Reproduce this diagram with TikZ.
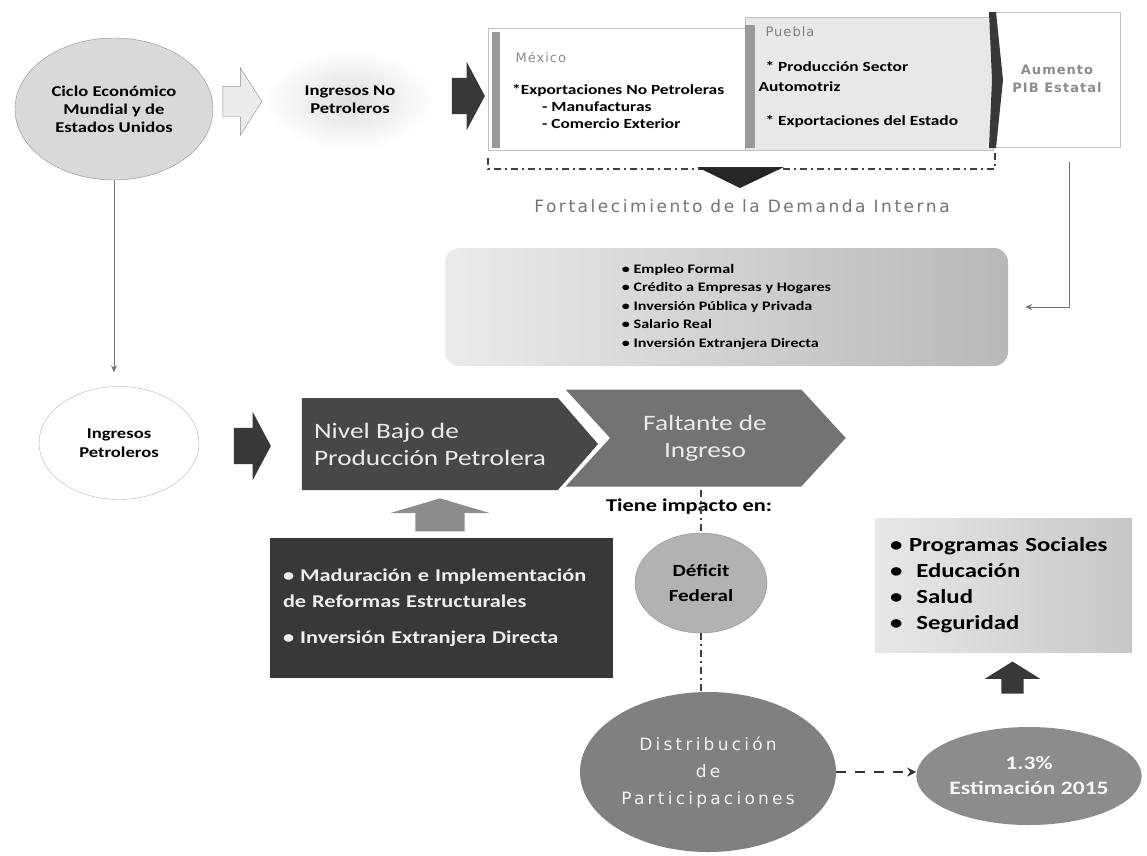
\documentclass[tikz,border=0pt]{standalone}
\usepackage{fontspec}
\setmainfont[FakeStretch=1.24]{Carlito}
\newfontfamily\wide[LetterSpace=8]{DejaVu Sans}
\usepackage{tikz}
\usetikzlibrary{shapes.geometric,shapes.arrows,shapes.symbols,arrows.meta}
\definecolor{inkdark}{HTML}{383838}
\newcommand{\fsz}[2]{\fontsize{#1}{#2}\selectfont}
\newcommand{\shaft}[2]{\phantom{\rule{#1pt}{#2pt}}}
\tikzstyle{oval}=[ellipse,inner sep=0pt,align=center]
\tikzstyle{blockarrow}=[single arrow,inner sep=0pt,fill=inkdark]
\tikzstyle{link}=[draw=black!55,line width=0.9pt,-{Stealth[length=7pt,width=6pt]}]
\tikzstyle{dotline}=[draw=black!75,line width=1.2pt,dash pattern=on 7pt off 4pt on 2pt off 4pt]
\tikzstyle{dasharrow}=[draw=black!80,line width=1.6pt,dash pattern=on 10pt off 9pt,-{Stealth[length=9pt,width=9pt]}]
\tikzstyle{itemtext}=[font=\bfseries\fsz{14}{17}]

\begin{document}
\begin{tikzpicture}[x=1pt,y=-1pt]
\useasboundingbox (0,0) rectangle (1147,855);

\node[oval,draw=black!45,fill=black!15,minimum width=198,minimum height=142,font=\bfseries\fsz{15}{18}] (ciclo) at (114,109) {Ciclo Económico\\Mundial y de\\Estados Unidos};
\node[blockarrow,fill=black!8,draw=black!45,minimum height=39,single arrow head extend=18.5,single arrow tip angle=115] (flecha1) at (237.5,101.5) {\shaft{0}{30}};
\node[oval,inner color=black!13,outer color=white,minimum width=170,minimum height=100,font=\bfseries\fsz{15}{18}] (nopetro) at (350,100) {Ingresos No\\Petroleros};
\node[blockarrow,minimum height=33,single arrow head extend=16,single arrow tip angle=124] (flecha2) at (463.5,96) {\shaft{0}{36}};

\draw[black!25,fill=white] (488,28) rectangle (745,150);
\draw[black!25,fill=black!9] (745,17) rectangle (993,150);
\draw[black!25,fill=white] (993,12) rectangle (1120,147);
\fill[black!40] (492,32) rectangle (500,148);
\fill[black!40] (745,25) rectangle (755,148);
\fill[inkdark] (989,12) -- (996,12) -- (1003,80) -- (996,148) -- (989,148) -- (992,80) -- cycle;

\node[anchor=west,text=black!45,font=\wide\fsz{13}{15}] (mexico) at (512,57) {México};
\node[anchor=north west,align=left,itemtext,inner sep=0pt] (mexlist) at (512,84) {*Exportaciones No Petroleras\\\hspace*{30pt}- Manufacturas\\\hspace*{30pt}- Comercio Exterior};
\node[anchor=west,text=black!50,font=\wide\fsz{13}{15}] (puebla) at (762,32) {Puebla};
\node[anchor=west,itemtext] (prod) at (762,67) {* Producción Sector};
\node[anchor=west,itemtext] (automotriz) at (755,87) {Automotriz};
\node[anchor=west,itemtext] (expo) at (762,122) {* Exportaciones del Estado};
\node[align=center,text=black!45,font=\wide\bfseries\fsz{13}{18}] (pib) at (1057,79) {Aumento\\PIB Estatal};

\draw[dotline] (488,158) -- (488,169) -- (995,169) -- (995,152);
\fill[black!85] (697,167) -- (784,167) -- (740,188) -- cycle;
\node[text=black!55,font=\wide\addfontfeature{LetterSpace=15}\fsz{17}{20}] (fortal) at (742,206) {Fortalecimiento de la Demanda Interna};

\node[rounded corners=14pt,left color=black!8,right color=black!28,minimum width=563,minimum height=118,align=left,font=\bfseries\fsz{13}{18.5}] (demanda) at (726.5,307) {• Empleo Formal\\• Crédito a Empresas y Hogares\\• Inversión Pública y Privada\\• Salario Real\\• Inversión Extranjera Directa};
\coordinate (pibdown) at (1069,162);
\draw[link] (pibdown) |- ([xshift=17pt]demanda.east);

\node[oval,draw=black!30,fill=white,minimum width=160,minimum height=113,font=\bfseries\fsz{15}{19}] (petro) at (119,443) {Ingresos\\Petroleros};
\draw[link,shorten >=14pt] (ciclo.south) -- (ciclo.south |- petro.north);
\node[blockarrow,minimum height=37,single arrow head extend=16,single arrow tip angle=124] (flecha3) at (247.5,446) {\shaft{0}{36}};

\node[signal,signal to=east,signal pointer angle=98,fill=black!72,minimum width=296,minimum height=92,inner sep=0pt,align=left,text=black!8,font=\fsz{22}{27}] (nivel) at (430,444) {Nivel Bajo de\\Producción Petrolera};
\node[signal,signal to=east,signal from=west,signal pointer angle=95,draw=white,line width=3pt,fill=black!55,minimum width=286,minimum height=100,inner sep=0pt,align=center,text=black!8,font=\fsz{22}{27}] (faltante) at (705,438) {Faltante de\\Ingreso};

\node[blockarrow,fill=black!45,shape border rotate=90,minimum height=33,single arrow head extend=25.5,single arrow tip angle=147] (sube1) at (440,518.5) {\shaft{49}{0}};
\node[fill=black!78,minimum width=343,minimum height=140,inner sep=13pt,text width=317,align=left,text=black!7,font=\bfseries\fsz{18}{26}] (reformas) at (441.5,608) {• Maduración e Implementación\\de Reformas Estructurales\\[10pt]• Inversión Extranjera Directa};

\node[font=\bfseries\fsz{18}{20}] (impacto) at (689,507) {Tiene impacto en:};
\node[oval,draw=black!45,fill=black!30,minimum width=132,minimum height=100,font=\bfseries\fsz{17}{25}] (deficit) at (701,583) {Déficit\\Federal};
\draw[dotline] (deficit.north |- faltante.south) -- (deficit.north);

\node[oval,fill=black!50,minimum width=256,minimum height=160,text=black!5,font=\wide\addfontfeature{LetterSpace=19}\fsz{17}{27}] (distrib) at (708,772) {Distribución\\de\\Participaciones};
\draw[dotline] (deficit.south) -- (deficit.south |- distrib.north);
\node[oval,fill=black!45,minimum width=219,minimum height=98,text=black!4,font=\bfseries\fsz{19}{25}] (estim) at (1029,776) {1.3\%\\Estimación 2015};
\draw[dasharrow] (distrib.east) -- (distrib.east -| estim.west);

\node[blockarrow,shape border rotate=90,minimum height=32,single arrow head extend=16.5,single arrow tip angle=116] (sube2) at (1012.5,681) {\shaft{22}{0}};
\node[left color=black!9,right color=black!22,minimum width=257,minimum height=134,inner sep=15pt,text width=227,align=left,font=\bfseries\fsz{20}{26}] (programas) at (1003.5,585) {•~Programas Sociales\\•\hspace*{14pt}Educación\\•\hspace*{14pt}Salud\\•\hspace*{14pt}Seguridad};
\end{tikzpicture}
\end{document}
